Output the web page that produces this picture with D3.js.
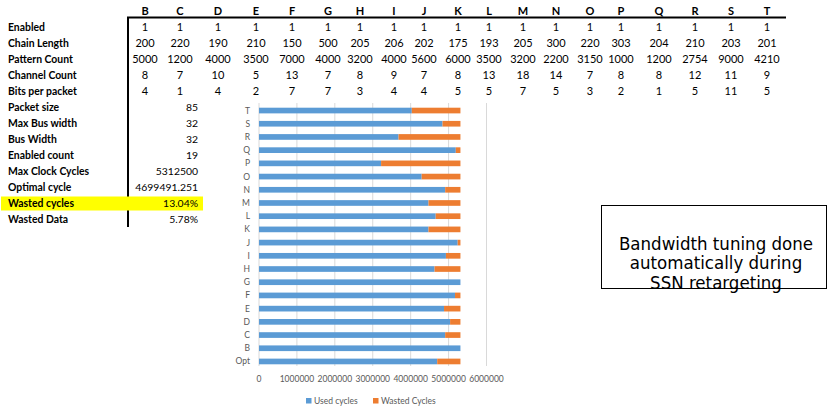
<!DOCTYPE html>
<html>
<head>
<meta charset="utf-8">
<script src="https://cdn.jsdelivr.net/npm/d3@7"></script>
<style>
body { margin: 0; background: #fff; }
svg text { font-family: Lato, "Open Sans", sans-serif; }
</style>
</head>
<body>
<svg id="sheet" width="832" height="410"></svg>
<script>
// table data
var cols = ["B","C","D","E","F","G","H","I","J","K","L","M","N","O","P","Q","R","S","T"];
var colX = [145,180,218,256,292,328,360,394,424,458,489,523,556,590,621,659,695,731,767];
var enabled      = [1,1,1,1,1,1,1,1,1,1,1,1,1,1,1,1,1,1,1];
var chainLength  = [200,220,190,210,150,500,205,206,202,175,193,205,300,220,303,204,210,203,201];
var patternCount = [5000,1200,4000,3500,7000,4000,3200,4000,5600,6000,3500,3200,2200,3150,1000,1200,2754,9000,4210];
var channelCount = [8,7,10,5,13,7,8,9,7,8,13,18,14,7,8,8,12,11,9];
var bitsPerPacket= [4,1,4,2,7,7,3,4,4,5,5,7,5,3,2,1,5,11,5];
var rowLabels = ["Enabled","Chain Length","Pattern Count","Channel Count","Bits per packet"];
var summaryLabels = ["Packet size","Max Bus width","Bus Width","Enabled count","Max Clock Cycles","Optimal cycle","Wasted cycles","Wasted Data"];
var summaryValues = ["85","32","32","19","5312500","4699491.251","13.04%","5.78%"];

// chart data
var chartCats = ["Opt","B","C","D","E","F","G","H","I","J","K","L","M","N","O","P","Q","R","S","T"];
var maxCycles = 5312500;
var usedCycles = [4699491,5312500,4910000,5040000,4880000,5170000,5312500,4630000,4930000,5240000,4470000,4660000,4470000,4910000,4290000,3220000,5190000,3680000,4840000,4030000];
var xTicks = [0,1000000,2000000,3000000,4000000,5000000,6000000];

var svg = d3.select("#sheet");
var rowY = function(i) { return 11 + 16 * i; };
var cellFont = "10.4px";

// header letters
svg.selectAll("text.hdr").data(cols).enter().append("text")
    .attr("class", "hdr")
    .attr("x", function(d, i) { return colX[i]; })
    .attr("y", rowY(0) + 4)
    .attr("text-anchor", "middle")
    .style("font-size", "11px").style("font-weight", "bold")
    .text(function(d) { return d; });

// table borders
svg.append("line").attr("x1", 127).attr("x2", 786).attr("y1", 17.5).attr("y2", 17.5)
    .attr("stroke", "#000").attr("stroke-width", 2);
svg.append("line").attr("x1", 128).attr("x2", 128).attr("y1", 17).attr("y2", 227)
    .attr("stroke", "#000").attr("stroke-width", 2);

// yellow highlight
svg.append("rect").attr("x", 1).attr("y", 196.5).attr("width", 202).attr("height", 14)
    .attr("fill", "#ffff00");

var rows = [enabled, chainLength, patternCount, channelCount, bitsPerPacket];
rows.forEach(function(vals, r) {
    svg.append("text").attr("x", 8).attr("y", rowY(r + 1) + 4)
        .style("font-size", cellFont).style("font-weight", "bold")
        .text(rowLabels[r]);
    svg.selectAll("text.r" + r).data(vals).enter().append("text")
        .attr("class", "r" + r)
        .attr("x", function(d, i) { return colX[i]; })
        .attr("y", rowY(r + 1) + 4)
        .attr("text-anchor", "middle")
        .style("font-size", "11px")
        .text(function(d) { return d; });
});

summaryLabels.forEach(function(lab, i) {
    svg.append("text").attr("x", 8).attr("y", rowY(i + 6) + 4)
        .style("font-size", cellFont).style("font-weight", "bold")
        .text(lab);
    svg.append("text").attr("x", 198).attr("y", rowY(i + 6) + 4)
        .attr("text-anchor", "end")
        .style("font-size", cellFont)
        .text(summaryValues[i]);
});

// bar chart
var x = d3.scaleLinear().domain([0, 6000000]).range([259, 486.5]);
var y = d3.scaleBand().domain(chartCats.slice().reverse()).range([104, 368]).paddingInner(0.57).paddingOuter(0.28);

svg.selectAll("line.grid").data(xTicks).enter().append("line")
    .attr("class", "grid")
    .attr("x1", function(d) { return x(d); }).attr("x2", function(d) { return x(d); })
    .attr("y1", 103).attr("y2", 366)
    .attr("stroke", "#d9d9d9").attr("stroke-width", 1);

svg.selectAll("rect.used").data(chartCats).enter().append("rect")
    .attr("class", "used")
    .attr("x", x(0))
    .attr("y", function(d) { return y(d); })
    .attr("width", function(d, i) { return x(usedCycles[i]) - x(0); })
    .attr("height", y.bandwidth())
    .attr("fill", "#5b9bd5");

svg.selectAll("rect.waste").data(chartCats).enter().append("rect")
    .attr("class", "waste")
    .attr("x", function(d, i) { return x(usedCycles[i]); })
    .attr("y", function(d) { return y(d); })
    .attr("width", function(d, i) { return x(maxCycles) - x(usedCycles[i]); })
    .attr("height", y.bandwidth())
    .attr("fill", "#ed7d31");

svg.selectAll("text.cat").data(chartCats).enter().append("text")
    .attr("class", "cat")
    .attr("x", 250)
    .attr("y", function(d) { return y(d) + y.bandwidth() / 2 + 3; })
    .attr("text-anchor", "end")
    .style("font-size", "8.5px").attr("fill", "#595959")
    .text(function(d) { return d; });

svg.selectAll("text.tick").data(xTicks).enter().append("text")
    .attr("class", "tick")
    .attr("x", function(d) { return x(d); })
    .attr("y", 382)
    .attr("text-anchor", "middle")
    .style("font-size", "8.5px").attr("fill", "#595959")
    .text(function(d) { return d; });

// legend
var legend = [["Used cycles", "#5b9bd5", 306], ["Wasted Cycles", "#ed7d31", 373]];
legend.forEach(function(l) {
    svg.append("rect").attr("x", l[2]).attr("y", 398).attr("width", 5.5).attr("height", 5.5).attr("fill", l[1]);
    svg.append("text").attr("x", l[2] + 8).attr("y", 403.5)
        .style("font-size", "8.5px").attr("fill", "#595959").text(l[0]);
});

// note box
svg.append("rect").attr("x", 601.5).attr("y", 205.5).attr("width", 225).attr("height", 83)
    .attr("fill", "none").attr("stroke", "#000").attr("stroke-width", 1);
var note = ["Bandwidth tuning done", "automatically during", "SSN retargeting"];
svg.selectAll("text.note").data(note).enter().append("text")
    .attr("class", "note")
    .attr("x", 716)
    .attr("y", function(d, i) { return 249.5 + 19.5 * i; })
    .attr("text-anchor", "middle")
    .style("font-family", "'DejaVu Sans Condensed', 'DejaVu Sans', sans-serif")
    .style("font-size", "18.5px")
    .text(function(d) { return d; });
</script>
</body>
</html>
